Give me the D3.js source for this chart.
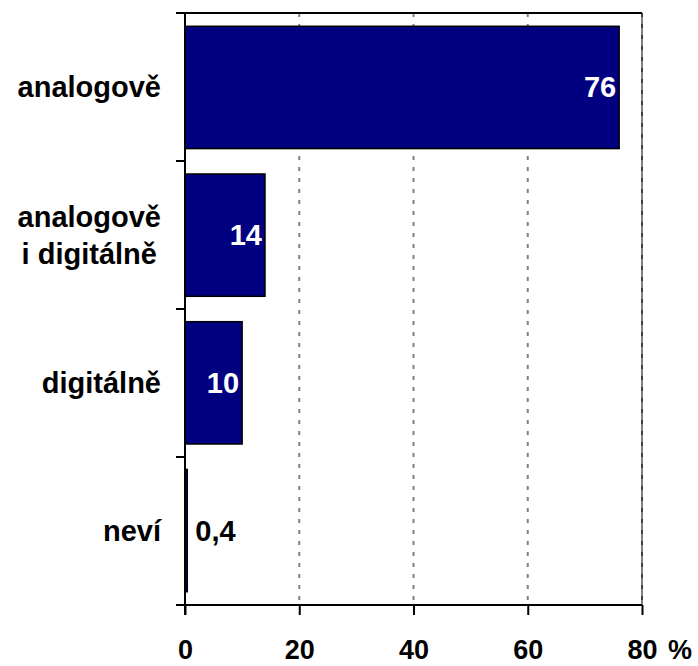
<!DOCTYPE html>
<html>
<head>
<meta charset="utf-8">
<script src="https://cdn.jsdelivr.net/npm/d3@7/dist/d3.min.js"></script>
<style>
  html, body { margin: 0; padding: 0; background: #fff; }
  svg { display: block; font-family: "Liberation Sans", Arial, sans-serif; font-weight: bold; }
</style>
</head>
<body>
<svg id="chart" width="698" height="666"></svg>
<script>
const categories = ["analogově", "analogově\ni digitálně", "digitálně", "neví"];
const values = [76, 14, 10, 0.4];
const valueLabels = ["76", "14", "10", "0,4"];
const xTicks = [0, 20, 40, 60, 80];
const unitLabel = "%";

const svg = d3.select("#chart");
const mLeft = 185, mRight = 642, mTop = 13, mBottom = 605;

const x = d3.scaleLinear().domain([0, 80]).range([mLeft, mRight]);
const y = d3.scaleBand().domain(categories).range([mTop, mBottom])
  .paddingInner(0.172).paddingOuter(0.09);

// gridlines
svg.append("g").selectAll("line").data(xTicks.filter(d => d > 0)).join("line")
  .attr("x1", d => x(d)).attr("x2", d => x(d))
  .attr("y1", mTop).attr("y2", mBottom)
  .attr("stroke", "#808080").attr("stroke-width", 2)
  .attr("stroke-dasharray", "4,7");

// plot border top + right
svg.append("line").attr("x1", mLeft).attr("x2", mRight).attr("y1", mTop).attr("y2", mTop)
  .attr("stroke", "#000").attr("stroke-width", 2);
svg.append("line").attr("x1", mRight).attr("x2", mRight).attr("y1", mTop).attr("y2", mBottom)
  .attr("stroke", "#000").attr("stroke-width", 1);

// bars
svg.append("g").selectAll("rect").data(categories).join("rect")
  .attr("x", x(0))
  .attr("y", d => y(d))
  .attr("width", (d, i) => x(values[i]) - x(0))
  .attr("height", y.bandwidth())
  .attr("fill", "#000080")
  .attr("stroke", "#000").attr("stroke-width", 1.5);

// category axis: band boundary ticks
const bounds = [mTop];
categories.forEach((c, i) => bounds.push(mTop + (i + 1) * ((mBottom - mTop) / categories.length)));
svg.append("g").selectAll("line").data(bounds).join("line")
  .attr("x1", mLeft - 9).attr("x2", mLeft)
  .attr("y1", d => d).attr("y2", d => d)
  .attr("stroke", "#000").attr("stroke-width", 2);
svg.append("line").attr("x1", mLeft).attr("x2", mLeft).attr("y1", mTop).attr("y2", mBottom + 10)
  .attr("stroke", "#000").attr("stroke-width", 2);

// x axis
const xAxis = d3.axisBottom(x).tickValues(xTicks).tickSize(10).tickFormat(d3.format("d"));
const gx = svg.append("g").attr("transform", `translate(0,${mBottom})`).call(xAxis);
gx.select(".domain").attr("stroke", "#000").attr("stroke-width", 2).attr("d", `M${mLeft - 9},0H${mRight}`);
gx.selectAll(".tick line").attr("stroke", "#000").attr("stroke-width", 2);
gx.selectAll(".tick text").attr("font-size", 27).attr("font-weight", "bold")
  .attr("font-family", "Liberation Sans, Arial, sans-serif").attr("fill", "#000")
  .attr("dy", null).attr("y", 54);
svg.append("text").attr("x", x(80) + 26).attr("y", mBottom + 54)
  .attr("font-size", 27).attr("fill", "#000").text(unitLabel);

// category labels
const catRight = 161;
const lineH = 37;
categories.forEach((c) => {
  const lines = c.split("\n");
  const cy = y(c) + y.bandwidth() / 2;
  const g = svg.append("g");
  const texts = lines.map((ln, j) => g.append("text")
    .attr("font-size", 29).attr("fill", "#000")
    .attr("text-anchor", "middle")
    .attr("y", cy + 10 + (j - (lines.length - 1) / 2) * lineH)
    .text(ln));
  const maxW = d3.max(texts, t => t.node().getComputedTextLength());
  texts.forEach(t => t.attr("x", catRight - maxW / 2));
});

// value labels
svg.append("g").selectAll("text").data(categories).join("text")
  .attr("font-size", 29)
  .attr("y", d => y(d) + y.bandwidth() / 2 + 10)
  .attr("x", (d, i) => values[i] > 5 ? x(values[i]) - 3 : x(values[i]) + 8)
  .attr("text-anchor", (d, i) => values[i] > 5 ? "end" : "start")
  .attr("fill", (d, i) => values[i] > 5 ? "#fff" : "#000")
  .text((d, i) => valueLabels[i]);
</script>
</body>
</html>
